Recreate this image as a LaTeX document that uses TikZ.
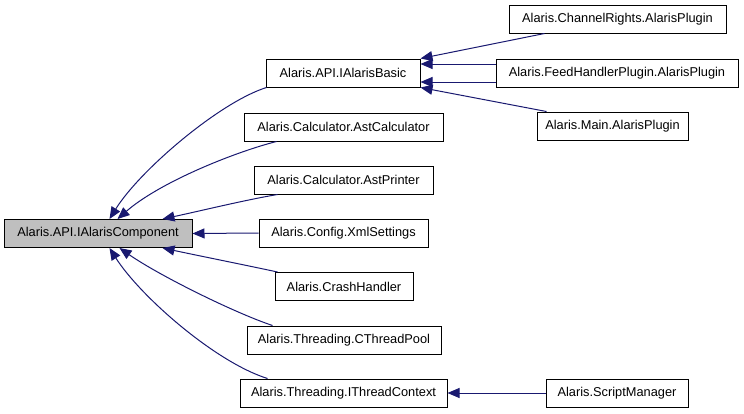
\documentclass[tikz,border=0pt]{standalone}
\usepackage{fontspec}
\setmainfont{Liberation Sans}
\usetikzlibrary{arrows.meta,calc}
\definecolor{edgecol}{RGB}{25,25,112}
\definecolor{rootfill}{RGB}{191,191,191}
\tikzset{
  cls/.style={draw=black, line width=1pt, fill=white, inner sep=0pt, minimum height=28pt,
    font=\fontsize{12.8}{15}\selectfont},
  rootcls/.style={cls, fill=rootfill},
  edge/.style={draw=edgecol, line width=1pt, -{Triangle[length=12pt,width=10pt,fill=edgecol]}}
}
\begin{document}
\begin{tikzpicture}[x=1pt,y=-1pt]
\useasboundingbox (0,0) rectangle (744,413);
% nodes
\node[rootcls, minimum width=188pt] (root) at (98,233.5) {Alaris.API.IAlarisComponent};
\node[cls, minimum width=154pt] (basic) at (343,73) {Alaris.API.IAlarisBasic};
\node[cls, minimum width=199pt] (calc) at (343.5,127) {Alaris.Calculator.AstCalculator};
\node[cls, minimum width=179pt] (printer) at (343.5,180) {Alaris.Calculator.AstPrinter};
\node[cls, minimum width=169pt] (xml) at (343.5,233) {Alaris.Config.XmlSettings};
\node[cls, minimum width=138pt] (crash) at (344,286.5) {Alaris.CrashHandler};
\node[cls, minimum width=194pt] (pool) at (344,340) {Alaris.Threading.CThreadPool};
\node[cls, minimum width=207pt] (context) at (343.5,393) {Alaris.Threading.IThreadContext};
\node[cls, minimum width=142pt] (script) at (617,393) {Alaris.ScriptManager};
\node[cls, minimum width=217pt] (channel) at (617.5,19) {Alaris.ChannelRights.AlarisPlugin};
\node[cls, minimum width=242pt] (feed) at (617,73) {Alaris.FeedHandlerPlugin.AlarisPlugin};
\node[cls, minimum width=151pt] (main) at (612.5,126) {Alaris.Main.AlarisPlugin};
% edges to root
\draw[edge] ($(basic.south west)+(1,0)$) .. controls (220,102) and (140,170) .. ($(root.north west)+(106,0)$);
\draw[edge] ($(calc.south west)+(33,0)$) .. controls (235,152) and (160,182) .. ($(root.north west)+(114,0)$);
\draw[edge] ($(printer.south west)+(24,0)$) .. controls (245,200) and (200,211) .. ($(root.north west)+(159,0)$);
\draw[edge] (xml.west) -- (root.east);
\draw[edge] ($(crash.north west)+(3,0)$) .. controls (245,265) and (200,256) .. ($(root.south west)+(159,0)$);
\draw[edge] ($(pool.north west)+(26,0)$) .. controls (235,313) and (160,276) .. ($(root.south west)+(116,0)$);
\draw[edge] ($(context.north west)+(28,0)$) .. controls (215,362) and (140,296) .. ($(root.south west)+(106,0)$);
% edges to IAlarisBasic
\draw[edge] ($(channel.south west)+(36,0)$) -- (basic.north east);
\draw[edge] ($(feed.west)+(0,-9)$) -- ($(basic.east)+(0,-9)$);
\draw[edge] ($(feed.west)+(0,9)$) -- ($(basic.east)+(0,9)$);
\draw[edge] ($(main.north west)+(10,0)$) -- (basic.south east);
% edge to IThreadContext
\draw[edge] (script.west) -- (context.east);
\end{tikzpicture}
\end{document}
